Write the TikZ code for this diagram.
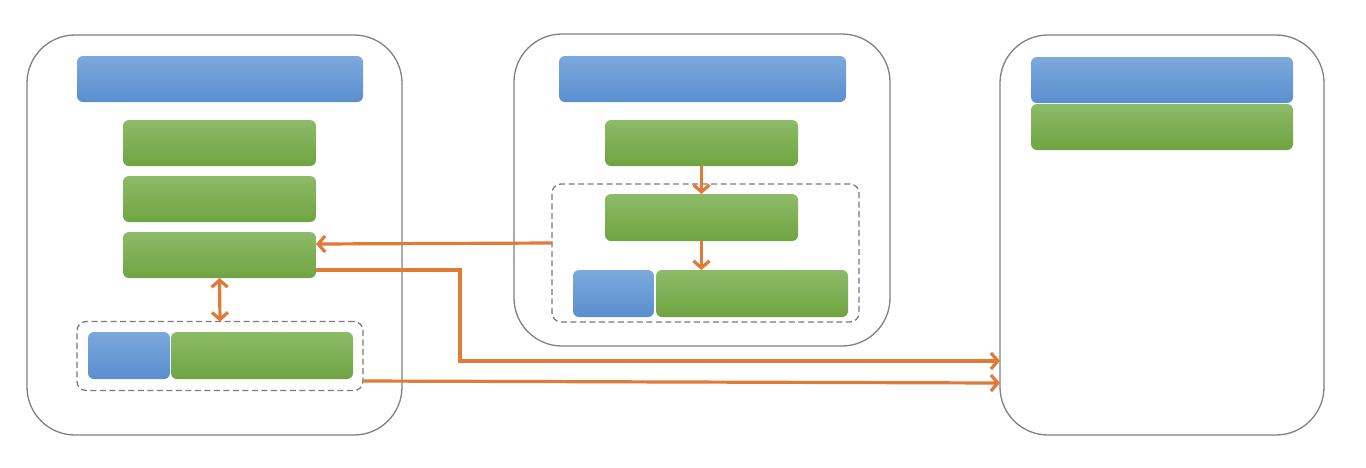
\documentclass[tikz,border=0pt]{standalone}
\usetikzlibrary{arrows.meta}
\usetikzlibrary{positioning}

\definecolor{bluetop}{HTML}{7CA9DD}
\definecolor{bluebot}{HTML}{5A8ECE}
\definecolor{greentop}{HTML}{8DBB68}
\definecolor{greenbot}{HTML}{6FA442}
\definecolor{framegray}{HTML}{808080}
\definecolor{dashgray}{HTML}{7A7A7A}
\definecolor{floworange}{HTML}{E07A36}

\begin{document}
\begin{tikzpicture}[x=1pt, y=-1pt, node distance=10pt,
  frame/.style={draw=framegray, line width=1.3pt, rounded corners=48pt, inner sep=0pt, outer sep=0pt},
  bar/.style={rounded corners=6pt, inner sep=0pt, outer sep=0pt, minimum height=46pt},
  bluebar/.style={bar, top color=bluetop, bottom color=bluebot},
  greenbar/.style={bar, top color=greentop, bottom color=greenbot},
  groupbox/.style={draw=dashgray, dash pattern=on 6pt off 3.5pt, line width=1.3pt, rounded corners=9pt, inner sep=0pt, outer sep=0pt},
  flow/.style={draw=floworange, line width=3.2pt, -{Straight Barb[length=7pt,width=16pt]}},
  twoway/.style={flow, {Straight Barb[length=7pt,width=16pt]}-{Straight Barb[length=7pt,width=16pt]}}]
  \useasboundingbox (0,0) rectangle (1366,467);

  % left block
  \node[frame, minimum width=375pt, minimum height=400pt] (lframe) at (214.5,235) {};
  \node[bluebar, minimum width=286pt] (lbar) at (220,79) {};
  \node[greenbar, minimum width=193pt] (lg1) at (219.5,143) {};
  \node[greenbar, minimum width=193pt] (lg2) [below=of lg1] {};
  \node[greenbar, minimum width=193pt] (lg3) [below=of lg2] {};
  \node[groupbox, minimum width=286pt, minimum height=69pt] (lgroup) at (220,356) {};
  \node[bluebar, minimum width=82pt, minimum height=47pt] (lblue) at (129,355.5) {};
  \node[greenbar, minimum width=182pt, minimum height=47pt] (lgreen) [right=1pt of lblue] {};

  % middle block
  \node[frame, minimum width=376pt, minimum height=312pt] (mframe) at (702,190) {};
  \node[bluebar, minimum width=287pt] (mbar) at (702.5,79) {};
  \node[greenbar, minimum width=193pt] (mg1) at (701.5,143) {};
  \node[groupbox, minimum width=307pt, minimum height=138pt] (mgroup) at (705.5,253) {};
  \node[greenbar, minimum width=193pt, minimum height=47pt] (mg2) [below=28pt of mg1] {};
  \node[bluebar, minimum width=81pt, minimum height=47pt] (mblue) at (613.5,293.5) {};
  \node[greenbar, minimum width=192pt, minimum height=47pt] (mgreen) [right=2pt of mblue] {};

  % right block
  \node[frame, minimum width=324pt, minimum height=400pt] (rframe) at (1162,235) {};
  \node[bluebar, minimum width=262pt] (rbar) at (1162,80) {};
  \node[greenbar, minimum width=262pt] (rgreen) [below=1pt of rbar] {};

  % arrows
  \draw[twoway] (lg3.south) -- (lgroup.north);
  \draw[flow] (mg1.south) -- (mg2.north);
  \draw[flow] (mg2.south) -- (mg2.south |- mgreen.north);
  \draw[flow] ([yshift=10pt]mgroup.west) -- ([yshift=11pt]lg3.east);
  \coordinate (turn) at (460,361);
  \draw[flow] ([yshift=-15pt]lg3.east) -| (turn) -- ([yshift=-126pt]rframe.west);
  \draw[flow] ([yshift=-25pt]lgroup.east) -- ([yshift=-148pt]rframe.west);
\end{tikzpicture}
\end{document}
